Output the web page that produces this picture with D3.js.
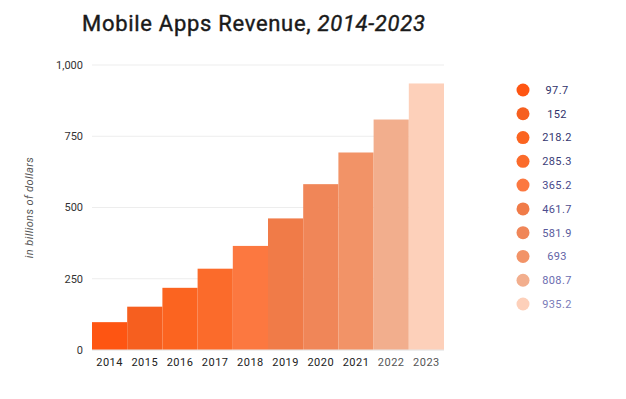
<!DOCTYPE html>
<html>
<head>
<meta charset="utf-8">
<script src="https://cdn.jsdelivr.net/npm/d3@7.9.0/dist/d3.min.js"></script>
<style>
  body { margin: 0; background: #fff; }
  svg { display: block; font-family: Roboto, "Noto Sans", sans-serif; }
</style>
</head>
<body>
<svg id="chart" width="626" height="399"></svg>
<script>
// ---- data ----
const years = ["2014", "2015", "2016", "2017", "2018", "2019", "2020", "2021", "2022", "2023"];
const revenue = [97.7, 152, 218.2, 285.3, 365.2, 461.7, 581.9, 693, 808.7, 935.2];
const revenueLabels = ["97.7", "152", "218.2", "285.3", "365.2", "461.7", "581.9", "693", "808.7", "935.2"];
const yTicks = [0, 250, 500, 750, 1000];
const barColors = ["#fe5512", "#f65f1f", "#fb6420", "#fb6b2b", "#fc7840", "#f07b48", "#f08658", "#f29367", "#f2ae8d", "#fdd0ba"];
const legendTextColors = ["#30326a", "#30326a", "#34366f", "#3c3e78", "#48498a", "#4c4d8e", "#5a5b9c", "#6263a6", "#6c6db0", "#7a7bb8"];

const svg = d3.select("#chart");
const margin = { top: 65, left: 92, right: 182, bottom: 49 };
const width = 626 - margin.left - margin.right;
const height = 399 - margin.top - margin.bottom;

const x = d3.scaleBand().domain(years).range([0, width]).padding(0);
const y = d3.scaleLinear().domain([0, 1000]).range([height, 0]);

// ---- title ----
const title = svg.append("text")
  .attr("x", 82).attr("y", 31)
  .attr("font-size", 22).attr("font-weight", 400)
  .attr("letter-spacing", 0.7)
  .attr("fill", "#1a1a1a")
  .attr("stroke", "#1a1a1a").attr("stroke-width", 0.4);
title.append("tspan").text("Mobile Apps Revenue, ");
title.append("tspan").attr("font-style", "italic").text("2014-2023");

const g = svg.append("g").attr("transform", `translate(${margin.left},${margin.top})`);

// ---- grid + y axis ----
g.selectAll(".grid").data(yTicks).join("line")
  .attr("x1", 0).attr("x2", width)
  .attr("y1", d => y(d)).attr("y2", d => y(d))
  .attr("stroke", "#ededed").attr("stroke-width", 1);

g.selectAll(".ytick").data(yTicks).join("text")
  .attr("x", -9).attr("y", d => y(d)).attr("dy", "0.35em")
  .attr("text-anchor", "end").attr("font-size", 11).attr("fill", "#333")
  .text(d => d3.format(",")(d));

svg.append("text")
  .attr("transform", `translate(33,${margin.top + y(500)}) rotate(-90)`)
  .attr("text-anchor", "middle")
  .attr("font-size", 11).attr("font-style", "italic").attr("fill", "#555")
  .attr("letter-spacing", 0.4)
  .text("in billions of dollars");

// ---- bars ----
g.selectAll(".bar").data(revenue).join("rect")
  .attr("x", (d, i) => x(years[i]))
  .attr("y", d => y(d))
  .attr("width", x.bandwidth())
  .attr("height", d => y(0) - y(d))
  .attr("fill", (d, i) => barColors[i]);

g.append("line")
  .attr("x1", 0).attr("x2", width)
  .attr("y1", y(0)).attr("y2", y(0))
  .attr("stroke", "#e6e6e6");

// ---- x labels ----
g.selectAll(".xtick").data(years).join("text")
  .attr("x", d => x(d) + x.bandwidth() / 2)
  .attr("y", height + 16)
  .attr("text-anchor", "middle").attr("font-size", 11)
  .attr("fill", (d, i) => i >= 8 ? "#555" : "#222")
  .attr("letter-spacing", 0.5)
  .text(d => d);

// ---- legend ----
const ly = d3.scalePoint().domain(years).range([90, 304]);
const legend = svg.append("g");
legend.selectAll("circle").data(years).join("circle")
  .attr("cx", 523).attr("cy", d => ly(d)).attr("r", 6.5)
  .attr("fill", (d, i) => barColors[i]);
legend.selectAll("text").data(revenueLabels).join("text")
  .attr("x", 557).attr("y", (d, i) => ly(years[i])).attr("dy", "0.35em")
  .attr("text-anchor", "middle").attr("font-size", 11)
  .attr("letter-spacing", 0.4)
  .attr("fill", (d, i) => legendTextColors[i])
  .text(d => d);
</script>
</body>
</html>
